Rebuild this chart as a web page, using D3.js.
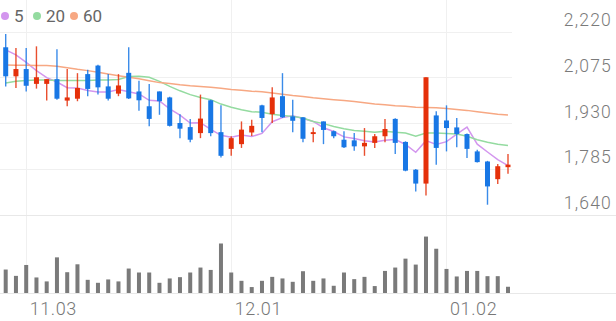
<!DOCTYPE html>
<html><head><meta charset="utf-8">
<script src="https://cdn.jsdelivr.net/npm/d3@7"></script>
<style>html,body{margin:0;padding:0;background:#fff;}svg{display:block;font-family:Roboto,"Noto Sans",sans-serif;}</style>
</head><body><svg id="c" width="616" height="321"></svg>
<script>
const dates = ["10.30","10.31","11.03","11.04","11.05","11.06","11.07","11.10","11.11","11.12","11.13","11.14","11.17","11.18","11.19","11.20","11.21","11.24","11.25","11.26","11.27","11.28","12.01","12.02","12.03","12.04","12.05","12.08","12.09","12.10","12.11","12.12","12.15","12.16","12.17","12.18","12.19","12.22","12.23","12.24","12.26","12.29","12.30","01.02","01.05","01.06","01.07","01.08","01.09","01.12"];
const open  = [2170,2078,2101,2054,2054,2069,2001,2007,2085,2112,2046,2023,2089,2030,1983,2030,2011,1930,1917,1898,2002,1901,1848,1863,1900,1986,1958,2015,1951,1948,1895,1935,1904,1877,1875,1856,1867,1888,1943,1870,1782,1738,1954,1938,1916,1895,1840,1808,1752,1790];
const high  = [2212,2168,2168,2173,2069,2164,2101,2088,2099,2115,2085,2085,2170,2064,2054,2030,2013,1958,1943,2020,2004,1986,1888,1935,1940,1988,2043,2088,2004,1948,1916,1935,1906,1904,1898,1914,1895,1943,1945,1872,1784,2075,1967,1986,1946,1897,1845,1810,1800,1832];
const low   = [2046,2041,2030,2039,2001,2004,1983,1999,2015,2020,2001,2015,2006,1969,1920,1956,1919,1882,1869,1882,1888,1821,1826,1851,1889,1901,1930,1946,1901,1869,1869,1863,1882,1851,1842,1826,1851,1869,1832,1777,1713,1700,1798,1840,1853,1819,1805,1671,1737,1769];
const close = [2078,2101,2048,2075,2069,2007,2011,2041,2038,2043,2007,2049,2008,2002,1943,1999,1921,1912,1877,1944,1898,1826,1882,1909,1921,1946,2011,1948,1937,1880,1901,1908,1888,1853,1856,1867,1888,1911,1867,1779,1738,2075,1851,1914,1895,1848,1806,1729,1793,1798];
const ma5   = [2162,2146,2122,2096,2074,2060,2042,2041,2033,2028,2028,2036,2029,2022,2002,2000,1975,1955,1930,1931,1910,1891,1885,1892,1887,1897,1934,1947,1953,1944,1935,1915,1903,1886,1881,1874,1870,1875,1878,1862,1837,1874,1862,1871,1895,1917,1863,1838,1814,1795];
const ma20  = [2057,2062,2065,2066,2066,2065,2065,2065,2065,2066,2066,2068,2077,2078,2075,2062,2046,2032,2020,2011,2004,1990,1980,1972,1966,1964,1958,1954,1951,1946,1935,1928,1919,1912,1906,1904,1901,1904,1901,1898,1888,1898,1898,1897,1895,1888,1877,1869,1863,1859];
const ma60  = [2114,2113,2113,2112,2112,2110,2105,2100,2096,2091,2085,2080,2075,2070,2064,2058,2055,2051,2048,2046,2043,2040,2036,2034,2031,2029,2025,2021,2017,2014,2010,2007,2004,2001,1998,1994,1990,1988,1985,1983,1980,1979,1978,1976,1973,1970,1966,1962,1958,1955];
const volume = [237,173,283,157,117,360,210,290,133,103,137,117,247,207,207,103,147,160,207,257,233,500,207,123,60,123,163,147,113,220,123,147,73,207,140,163,70,223,257,347,287,570,447,243,167,223,223,170,170,63];
const priceTicks = [1640,1785,1930,2075,2220];
const dateTicks = ["11.03","12.01","01.02"];
const maNames = ["5","20","60"];
const maColors = ["#d396ee","#94dba0","#f7a883"];

const svg = d3.select("#c");
const idx = d3.range(dates.length);
const x = d3.scaleLinear().domain([0, dates.length-1]).range([5.7, 508]);
const y = d3.scaleLinear().domain([1640,2220]).range([214.5,31.5]);
const yv = d3.scaleLinear().domain([0, d3.max(volume)*1.01]).range([293, 236]);
const UP = "#e5300a", DOWN = "#1877e5";

// grid
const g = svg.append("g");
g.selectAll("line.h").data(priceTicks.slice(1)).join("line")
  .attr("x1",0).attr("x2",512).attr("y1",d=>Math.round(y(d))+0.5).attr("y2",d=>Math.round(y(d))+0.5)
  .attr("stroke","#f0f0f0").attr("stroke-width",1);
g.selectAll("line.v").data(dateTicks).join("line")
  .attr("x1",d=>Math.round(x(dates.indexOf(d)))+0.5).attr("x2",d=>Math.round(x(dates.indexOf(d)))+0.5)
  .attr("y1",0).attr("y2",293).attr("stroke","#f0f0f0");
[y(1640), 293].forEach(v=>{
  g.append("line").attr("x1",0).attr("x2",616).attr("y1",Math.round(v)+0.5).attr("y2",Math.round(v)+0.5).attr("stroke","#e8e8e8");
});

// y axis labels
svg.append("g").selectAll("text").data(priceTicks).join("text")
  .attr("x",612).attr("y",d=>y(d)-5.5).attr("text-anchor","end")
  .attr("font-size",17.5).attr("font-weight",300).attr("letter-spacing",1.2)
  .attr("fill","#7a7a7a").text(d=>d3.format(",")(d));

// x axis labels
svg.append("g").selectAll("text").data(dateTicks).join("text")
  .attr("x",d=>x(dates.indexOf(d))+3.5).attr("y",315).attr("text-anchor","start")
  .attr("font-size",18).attr("font-weight",300).attr("letter-spacing",0.6)
  .attr("fill","#777").text(d=>d);

// MA lines
[ma5, ma20, ma60].forEach((arr,k)=>{
  svg.append("path").datum(arr).attr("fill","none").attr("stroke",maColors[k]).attr("stroke-width",1.5)
    .attr("d", d3.line().x((d,i)=>x(i)).y(d=>y(d)));
});

// candles
const cg = svg.append("g");
const col = i => close[i] >= open[i] ? UP : DOWN;
cg.selectAll("line").data(idx).join("line")
  .attr("x1",i=>x(i)).attr("x2",i=>x(i)).attr("y1",i=>y(high[i])).attr("y2",i=>y(low[i]))
  .attr("stroke",col).attr("stroke-width",1.4).attr("stroke-opacity",0.85);
cg.selectAll("rect").data(idx).join("rect")
  .attr("x",i=>x(i)-2.5).attr("width",5)
  .attr("y",i=>y(Math.max(open[i],close[i])))
  .attr("height",i=>Math.max(1.5, Math.abs(y(open[i])-y(close[i]))))
  .attr("fill",col);

// volume
svg.append("g").selectAll("rect").data(idx).join("rect")
  .attr("x",i=>x(i)-2).attr("width",4).attr("y",i=>yv(volume[i])).attr("height",i=>293-yv(volume[i]))
  .attr("fill","#7a7a7a");

// legend
const lg = svg.append("g");
const lx = [5, 37, 74];
maNames.forEach((n,k)=>{
  lg.append("circle").attr("cx",lx[k]).attr("cy",16).attr("r",4).attr("fill",maColors[k]);
  lg.append("text").attr("x",lx[k]+9).attr("y",22).attr("font-size",17).attr("fill","#666").text(n);
});
</script></body></html>
